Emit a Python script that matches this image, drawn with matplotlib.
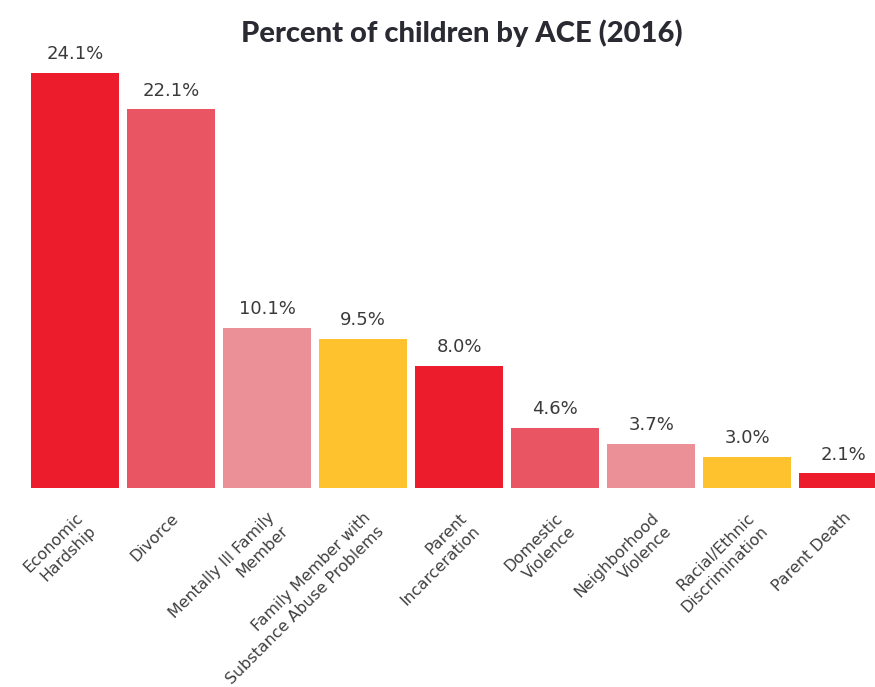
import matplotlib.pyplot as plt

categories = ["Economic\nHardship", "Divorce", "Mentally Ill Family\nMember",
              "Family Member with\nSubstance Abuse Problems", "Parent\nIncarceration",
              "Domestic\nViolence", "Neighborhood\nViolence", "Racial/Ethnic\nDiscrimination",
              "Parent Death"]
percent = [24.1, 22.1, 10.1, 9.5, 8.0, 4.6, 3.7, 3.0, 2.1]
colors = ["#EC1C2D", "#E95563", "#EB9097", "#FEC22E"] * 2 + ["#EC1C2D"]

fig = plt.figure(figsize=(8.75, 6.87), dpi=100)
ax = fig.add_axes([27.3 / 875, 199 / 687, 864 / 875, 440 / 687])

x = range(len(percent))
ax.bar(x, percent, width=0.917, color=colors)
ax.set_xlim(-0.5, 8.5)
ax.set_ylim(1.29, 1.29 + 440 / 18.2)

for i, v in zip(x, percent):
    ax.annotate(f"{v:.1f}%", (i, v), xytext=(0, 7), textcoords="offset points",
                ha="center", va="bottom", fontsize=13, color="#3a3a3a",
                family="DejaVu Sans")

ax.set_xticks(list(x))
ax.set_xticklabels(categories, rotation=45, ha="right", va="top",
                   rotation_mode="anchor", multialignment="right", linespacing=1.3,
                   fontsize=11.4, color="#3f3f3f", family="DejaVu Sans")
ax.tick_params(axis="x", length=0, pad=16)
ax.set_yticks([])
for s in ax.spines.values():
    s.set_visible(False)

fig.text(462 / 875, 1 - 33 / 687, "Percent of children by ACE (2016)",
         ha="center", va="center", fontsize=21, fontweight="black",
         family=["Lato", "DejaVu Sans"], color="#2a2a33")

fig.savefig("out.png", dpi=100)
